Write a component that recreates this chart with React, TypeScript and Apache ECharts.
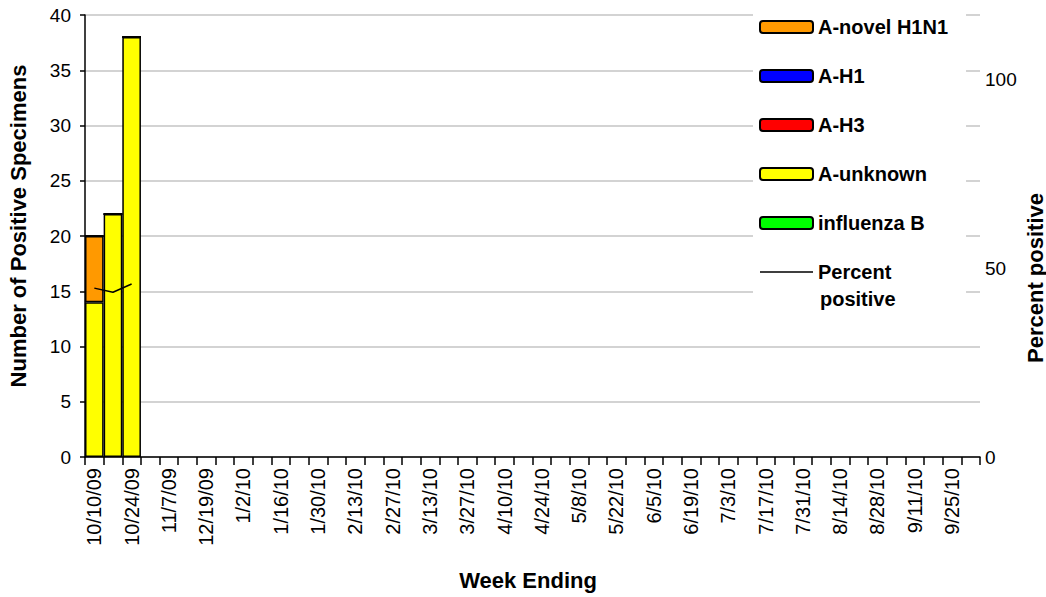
import React, { useEffect, useRef } from 'react';
import * as echarts from 'echarts';

const weeks = [
  '10/10/09', '10/17/09', '10/24/09', '10/31/09', '11/7/09', '12/12/09', '12/19/09', '12/26/09',
  '1/2/10', '1/9/10', '1/16/10', '1/23/10', '1/30/10', '2/6/10', '2/13/10', '2/20/10', '2/27/10',
  '3/6/10', '3/13/10', '3/20/10', '3/27/10', '4/3/10', '4/10/10', '4/17/10', '4/24/10',
  '5/1/10', '5/8/10', '5/15/10', '5/22/10', '5/29/10', '6/5/10', '6/12/10', '6/19/10', '6/26/10',
  '7/3/10', '7/10/10', '7/17/10', '7/24/10', '7/31/10', '8/7/10', '8/14/10', '8/21/10', '8/28/10',
  '9/4/10', '9/11/10', '9/18/10', '9/25/10', '10/2/10',
];

const aNovelH1N1 = [6, 0, 0];
const aH1 = [0, 0, 0];
const aH3 = [0, 0, 0];
const aUnknown = [14, 22, 38];
const influenzaB = [0, 0, 0];
const percentPositive = [44.7, 43.6, 45.8];

const leftTicks = { min: 0, max: 40, interval: 5 };
const rightTicks = { min: 0, max: 117, interval: 50 };

const FONT = 'Liberation Sans, Arial, sans-serif';
const LINE_ICON = 'path://M0,0 L0.01,0 L0.01,0.01 Z M0,5.25 L53,5.25 L53,6.75 L0,6.75 Z M52.99,12 L53,12 L53,11.99 Z';

export default function App() {
  const ref = useRef<HTMLDivElement>(null);

  useEffect(() => {
    if (!ref.current) return;
    const chart = echarts.init(ref.current, undefined, { renderer: 'svg' });

    const barSeries = (name: string, data: number[], color: string) => ({
      name,
      type: 'bar',
      stack: 'total',
      data,
      barWidth: '100%',
      barGap: '0%',
      barCategoryGap: '0%',
      itemStyle: { color, borderColor: '#000', borderWidth: 1.5 },
      emphasis: { disabled: true },
    });

    const titleStyle = (text: string, size: number, align: string) => ({
      text,
      font: `bold ${size}px ${FONT}`,
      fill: '#000',
      textAlign: align,
      textVerticalAlign: 'middle',
      align,
      verticalAlign: 'middle',
    });

    chart.setOption({
      animation: false,
      textStyle: { fontFamily: FONT },
      grid: { left: 85, right: 66, top: 15, bottom: 140, containLabel: false },
      legend: {
        orient: 'vertical',
        left: 753,
        top: 3,
        padding: [14, 18, 23, 6],
        backgroundColor: '#ffffff',
        itemWidth: 53,
        itemHeight: 12,
        itemGap: 29,
        itemTextGap: 8,
        selectedMode: false,
        textStyle: { fontFamily: FONT, fontSize: 20, fontWeight: 'bold', color: '#000' },
        data: [
          'A-novel H1N1',
          'A-H1',
          'A-H3',
          'A-unknown',
          'influenza B',
          { name: 'Percent positive', icon: LINE_ICON, itemStyle: { color: '#000', borderWidth: 0 } },
        ],
        formatter: (n: string) => (n === 'Percent positive' ? 'Percent' : n),
      },
      xAxis: {
        type: 'category',
        data: weeks,
        boundaryGap: true,
        axisLine: { show: true, lineStyle: { color: '#000', width: 1.5 } },
        axisTick: { show: true, interval: 0, length: 8, lineStyle: { color: '#000', width: 1.5 } },
        axisLabel: {
          interval: 1,
          rotate: 90,
          margin: 11,
          fontFamily: FONT,
          fontSize: 20,
          color: '#000',
        },
        splitLine: { show: false },
      },
      yAxis: [
        {
          type: 'value',
          min: leftTicks.min,
          max: leftTicks.max,
          interval: leftTicks.interval,
          axisLine: { show: true, lineStyle: { color: '#000', width: 1.5 } },
          axisTick: { show: true, length: 5, lineStyle: { color: '#000', width: 1.5 } },
          axisLabel: { margin: 14, fontFamily: FONT, fontSize: 19, color: '#000' },
          splitLine: { show: true, lineStyle: { color: '#c4c4c4', width: 1.5 } },
        },
        {
          type: 'value',
          position: 'right',
          min: rightTicks.min,
          max: rightTicks.max,
          interval: rightTicks.interval,
          axisLine: { show: false },
          axisTick: { show: false },
          axisLabel: { margin: 5, fontFamily: FONT, fontSize: 19, color: '#000', showMaxLabel: false },
          splitLine: { show: false },
        },
      ],
      graphic: [
        {
          type: 'text',
          x: 18,
          y: 226,
          rotation: Math.PI / 2,
          z: 100,
          style: titleStyle('Number of Positive Specimens', 22, 'center'),
        },
        {
          type: 'text',
          x: 1035,
          y: 278,
          rotation: Math.PI / 2,
          z: 100,
          style: titleStyle('Percent positive', 22, 'center'),
        },
        {
          type: 'text',
          x: 528,
          y: 580,
          z: 100,
          style: titleStyle('Week Ending', 22, 'center'),
        },
        {
          type: 'text',
          x: 820,
          y: 299,
          z: 100,
          style: titleStyle('positive', 20, 'left'),
        },
      ],
      series: [
        barSeries('A-unknown', aUnknown, '#FFFF00'),
        barSeries('A-novel H1N1', aNovelH1N1, '#FF9900'),
        barSeries('A-H1', aH1, '#0000FF'),
        barSeries('A-H3', aH3, '#FF0000'),
        barSeries('influenza B', influenzaB, '#00FF00'),
        {
          name: 'Percent positive',
          type: 'line',
          yAxisIndex: 1,
          data: percentPositive,
          symbol: 'none',
          showSymbol: false,
          itemStyle: { color: '#000' },
          lineStyle: { color: '#000', width: 1.5 },
          emphasis: { disabled: true },
          z: 5,
        },
      ],
    });

    return () => chart.dispose();
  }, []);

  return (
    <div
      ref={ref}
      style={{ position: 'fixed', left: 0, top: 0, width: 1046, height: 597, background: '#fff' }}
    />
  );
}
